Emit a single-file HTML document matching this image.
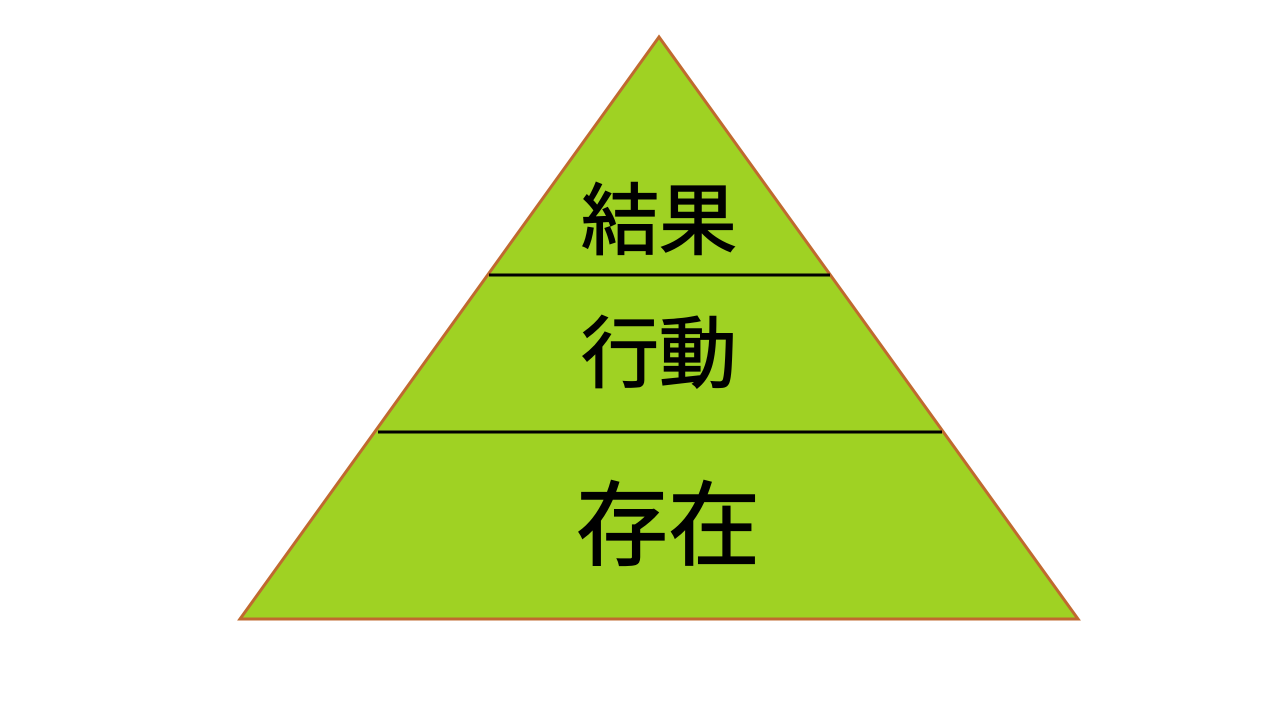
<!DOCTYPE html>
<html><head><meta charset="utf-8"><style>
html,body{margin:0;padding:0;background:#fff;width:1280px;height:720px;overflow:hidden}
</style></head><body>
<svg width="1280" height="720" viewBox="0 0 1280 720" xmlns="http://www.w3.org/2000/svg">
<polygon points="659,37 240,619 1078,619" fill="#9fd223" stroke="#c0692f" stroke-width="3" stroke-linejoin="miter"/>
<line x1="489" y1="275" x2="830" y2="275" stroke="#000" stroke-width="3"/>
<line x1="378" y1="432" x2="942" y2="432" stroke="#000" stroke-width="3"/>
<g font-family="'Liberation Sans','Noto Sans CJK JP',sans-serif" fill="#000" stroke="#000" stroke-width="1.3" text-anchor="middle">
<text x="659" y="248" font-size="78">結果</text>
<text x="659" y="381" font-size="78">行動</text>
<text x="668" y="558" font-size="92">存在</text>
</g>
</svg>
</body></html>
